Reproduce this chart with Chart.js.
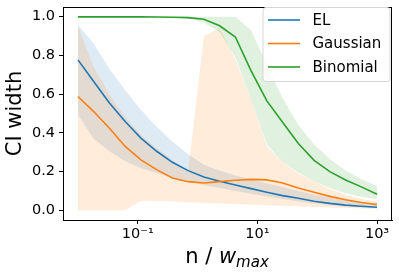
<!DOCTYPE html>
<html>
<head>
<meta charset="utf-8">
<script src="https://cdn.jsdelivr.net/npm/chart.js@4.4.1/dist/chart.umd.min.js"></script>
<style>
  html, body { margin: 0; padding: 0; background: #fff; }
</style>
</head>
<body>
<canvas id="ciCanvas" width="399" height="275"></canvas>
<script>
// n / w_max grid (log spaced, 0.01 .. 1000)
var xVals = [0.01, 0.01833, 0.0336, 0.06158, 0.1129, 0.2069, 0.3793, 0.6952, 1.274, 2.336,
             4.281, 7.848, 14.38, 26.37, 48.33, 88.59, 162.4, 297.6, 545.6, 1000];

var seriesNames = ["EL", "Gaussian", "Binomial"];

var elMean  = [0.777, 0.665, 0.554, 0.459, 0.373, 0.305, 0.248, 0.205, 0.172, 0.15, 0.131, 0.112, 0.093, 0.076, 0.062, 0.047, 0.036, 0.027, 0.021, 0.016];
var elLow   = [0.493, 0.37, 0.305, 0.253, 0.218, 0.193, 0.167, 0.15, 0.13, 0.115, 0.1, 0.085, 0.072, 0.058, 0.046, 0.035, 0.027, 0.02, 0.015, 0.011];
var elHigh  = [0.957, 0.86, 0.73, 0.62, 0.52, 0.43, 0.356, 0.29, 0.235, 0.205, 0.18, 0.16, 0.14, 0.12, 0.1, 0.082, 0.066, 0.053, 0.043, 0.035];

var gaMean  = [0.588, 0.51, 0.424, 0.33, 0.26, 0.21, 0.167, 0.148, 0.141, 0.148, 0.155, 0.16, 0.157, 0.141, 0.115, 0.093, 0.072, 0.055, 0.04, 0.03];
var gaLow   = [0, 0, 0, 0, 0.05, 0.048, 0.045, 0.042, 0.038, 0.035, 0.032, 0.029, 0.026, 0.023, 0.02, 0.017, 0.014, 0.012, 0.01, 0.008];
var gaHigh  = [0.95, 0.74, 0.6, 0.48, 0.39, 0.32, 0.26, 0.2, 0.9, 0.94, 0.78, 0.57, 0.33, 0.25, 0.19, 0.15, 0.11, 0.08, 0.06, 0.045];

var biMean  = [0.999, 0.999, 0.999, 0.999, 0.999, 0.998, 0.997, 0.995, 0.987, 0.953, 0.895, 0.72, 0.565, 0.455, 0.345, 0.258, 0.2, 0.157, 0.121, 0.083];
var biLow   = [0.998, 0.998, 0.998, 0.998, 0.998, 0.997, 0.995, 0.99, 0.97, 0.92, 0.79, 0.57, 0.34, 0.25, 0.195, 0.15, 0.115, 0.088, 0.07, 0.057];
var biHigh  = [1, 1, 1, 1, 1, 1, 1, 1, 1, 1, 1, 0.93, 0.75, 0.58, 0.44, 0.34, 0.265, 0.205, 0.16, 0.125];

var xTicks = [0.1, 10, 1000];
var xTickLabels = ["10\u207B\u00B9", "10\u00B9", "10\u00B3"];
var yTicks = [0, 0.2, 0.4, 0.6, 0.8, 1.0];

var colors = ["#1f77b4", "#ff7f0e", "#2ca02c"];
var bandColors = ["rgba(31,119,180,0.15)", "rgba(255,127,14,0.15)", "rgba(44,160,44,0.15)"];

function pts(arr) {
    return arr.map(function (v, i) { return { x: xVals[i], y: v }; });
}

function band(hi, lo, idx) {
    return [
        { label: seriesNames[idx] + " hi", data: pts(hi), borderWidth: 0, pointRadius: 0,
          fill: "+1", backgroundColor: bandColors[idx], order: 6 - idx },
        { label: seriesNames[idx] + " lo", data: pts(lo), borderWidth: 0, pointRadius: 0,
          fill: false, order: 6 - idx }
    ];
}

function line(vals, idx) {
    return { label: seriesNames[idx], data: pts(vals), borderColor: colors[idx], borderWidth: 1.6,
             pointRadius: 0, fill: false, order: 3 - idx };
}

var FONT = "'DejaVu Sans', sans-serif";

// box, axis titles and legend, drawn like matplotlib
var decorPlugin = {
    id: "decor",
    afterDraw: function (chart) {
        var ctx = chart.ctx;
        var a = chart.chartArea;
        ctx.save();
        ctx.strokeStyle = "#000";
        ctx.lineWidth = 1;
        ctx.strokeRect(a.left + 0.5, a.top + 0.5, a.right - a.left - 1, a.bottom - a.top);

        // y title
        ctx.fillStyle = "#000";
        ctx.font = "21px " + FONT;
        ctx.textAlign = "center";
        ctx.textBaseline = "middle";
        ctx.save();
        ctx.translate(15.5, (a.top + a.bottom) / 2);
        ctx.rotate(-Math.PI / 2);
        ctx.fillText("CI width", 0, 0);
        ctx.restore();

        // x title: n / w_max
        var p1 = "n / ", p2 = "w", p3 = "max";
        ctx.textAlign = "left";
        ctx.textBaseline = "alphabetic";
        ctx.font = "21px " + FONT;
        var w1 = ctx.measureText(p1).width;
        ctx.font = "italic 21px " + FONT;
        var w2 = ctx.measureText(p2).width;
        ctx.font = "italic 15px " + FONT;
        var w3 = ctx.measureText(p3).width;
        var x0 = 227 - (w1 + w2 + w3) / 2;
        var base = 263;
        ctx.font = "21px " + FONT;
        ctx.fillText(p1, x0, base);
        ctx.font = "italic 21px " + FONT;
        ctx.fillText(p2, x0 + w1, base);
        ctx.font = "italic 15px " + FONT;
        ctx.fillText(p3, x0 + w1 + w2, base + 4);

        // legend
        var lx = 263, ly = 7.5, lw = 127, lh = 74, r = 3;
        ctx.beginPath();
        ctx.moveTo(lx + r, ly);
        ctx.arcTo(lx + lw, ly, lx + lw, ly + lh, r);
        ctx.arcTo(lx + lw, ly + lh, lx, ly + lh, r);
        ctx.arcTo(lx, ly + lh, lx, ly, r);
        ctx.arcTo(lx, ly, lx + lw, ly, r);
        ctx.closePath();
        ctx.fillStyle = "rgba(255,255,255,0.8)";
        ctx.fill();
        ctx.strokeStyle = "#d6d6d6";
        ctx.stroke();
        var rows = [20, 43.5, 67];
        ctx.font = "15px " + FONT;
        ctx.textBaseline = "middle";
        for (var i = 0; i < seriesNames.length; i++) {
            ctx.strokeStyle = colors[i];
            ctx.lineWidth = 1.6;
            ctx.beginPath();
            ctx.moveTo(268, rows[i]);
            ctx.lineTo(300, rows[i]);
            ctx.stroke();
            ctx.fillStyle = "#000";
            ctx.fillText(seriesNames[i], 312.5, rows[i] + 1);
        }
        ctx.restore();
    }
};

var datasets = [line(biMean, 2), line(gaMean, 1), line(elMean, 0)]
    .concat(band(elHigh, elLow, 0))
    .concat(band(gaHigh, gaLow, 1))
    .concat(band(biHigh, biLow, 2));

var canvas = document.getElementById("ciCanvas");
var ciChart = new Chart(canvas, {
    type: "line",
    data: { datasets: datasets },
    options: {
        responsive: false,
        animation: false,
        devicePixelRatio: 1,
        layout: { padding: { left: 0, top: 7, right: 7, bottom: 0 } },
        elements: { line: { tension: 0 } },
        plugins: { legend: { display: false }, tooltip: { enabled: false } },
        scales: {
            x: {
                type: "logarithmic",
                min: Math.pow(10, -2.25),
                max: Math.pow(10, 3.25),
                afterBuildTicks: function (scale) {
                    scale.ticks = xTicks.map(function (v) { return { value: v, major: true }; });
                },
                afterFit: function (scale) {
                    scale.height = 55;
                    scale.paddingLeft = 0;
                    scale.paddingRight = 0;
                    scale.paddingTop = 0;
                    scale.paddingBottom = 0;
                },
                ticks: {
                    color: "#000",
                    font: { family: FONT, size: 14.5 },
                    padding: 2,
                    maxRotation: 0,
                    autoSkip: false,
                    callback: function (v, i) { return xTickLabels[i]; }
                },
                grid: { display: true, drawOnChartArea: false, drawTicks: true, tickLength: 4, color: "#000" },
                border: { display: true, color: "#000", width: 1 }
            },
            y: {
                type: "linear",
                min: -0.05,
                max: 1.05,
                afterBuildTicks: function (scale) {
                    scale.ticks = yTicks.map(function (v) { return { value: v }; });
                },
                afterFit: function (scale) {
                    scale.width = 63;
                    scale.paddingLeft = 0;
                    scale.paddingRight = 0;
                    scale.paddingTop = 0;
                    scale.paddingBottom = 0;
                },
                ticks: {
                    color: "#000",
                    font: { family: FONT, size: 14.5 },
                    padding: 4,
                    callback: function (v) { return v.toFixed(1); }
                },
                grid: { display: true, drawOnChartArea: false, drawTicks: true, tickLength: 4, color: "#000" },
                border: { display: true, color: "#000", width: 1 }
            }
        }
    },
    plugins: [decorPlugin]
});
</script>
</body>
</html>
